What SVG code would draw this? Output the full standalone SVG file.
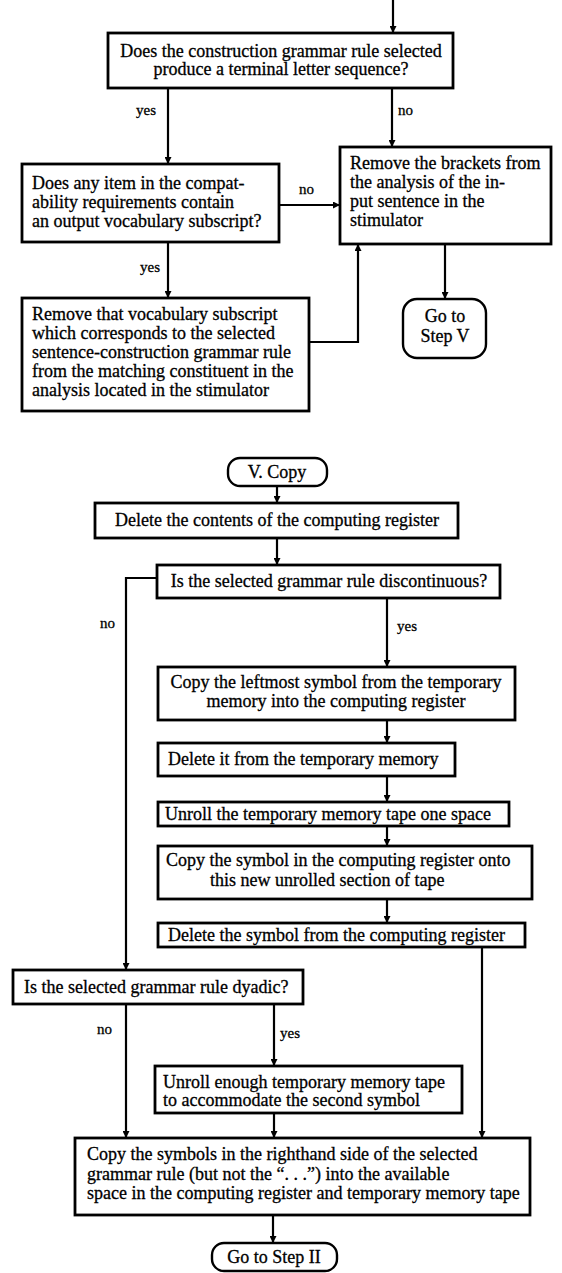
<svg xmlns="http://www.w3.org/2000/svg" width="562" height="1273" viewBox="0 0 562 1273">
  <defs>
    <marker id="arr" viewBox="0 0 8 8" refX="8" refY="4" markerWidth="7" markerHeight="7" markerUnits="userSpaceOnUse" orient="auto">
      <path d="M0,0 L8,4 L0,8 z" fill="#000"/>
    </marker>
  </defs>
  <style>
    .box{fill:#fff;stroke:#000;stroke-width:2.8}
    .term{fill:#fff;stroke:#000;stroke-width:2.4}
    .t{font-family:"Liberation Serif","Times New Roman",serif;font-size:18px;fill:#000;stroke:#000;stroke-width:0.3}
    .c{text-anchor:middle}
    .lbl{font-family:"Liberation Serif","Times New Roman",serif;font-size:15px;fill:#000;stroke:#000;stroke-width:0.3}
    .edge{fill:none;stroke:#000;stroke-width:2.2;marker-end:url(#arr)}
  </style>
  <rect width="562" height="1273" fill="#fff"/>

  <!-- connectors -->
  <g id="connectors">
    <path class="edge" d="M393,0 V33"/>
    <path class="edge" d="M168,88 V164"/>
    <path class="edge" d="M392,88 V147"/>
    <path class="edge" d="M279,205 H340"/>
    <path class="edge" d="M168,242 V298"/>
    <path class="edge" d="M309,342 H358 V244"/>
    <path class="edge" d="M445,244 V299"/>
    <path class="edge" d="M277,486 V503"/>
    <path class="edge" d="M277,538 V565"/>
    <path class="edge" d="M157,578 H126 V970"/>
    <path class="edge" d="M387,598 V667"/>
    <path class="edge" d="M387,720 V743"/>
    <path class="edge" d="M387,776 V802"/>
    <path class="edge" d="M387,826 V846"/>
    <path class="edge" d="M387,899 V923"/>
    <path class="edge" d="M482,947 V1138"/>
    <path class="edge" d="M126,1004 V1138"/>
    <path class="edge" d="M274,1004 V1066"/>
    <path class="edge" d="M274,1113 V1138"/>
    <path class="edge" d="M273,1215 V1243"/>
  </g>

  <!-- branch labels -->
  <g id="labels">
    <text class="lbl" x="136" y="115">yes</text>
    <text class="lbl" x="398" y="115">no</text>
    <text class="lbl" x="299" y="194">no</text>
    <text class="lbl" x="140" y="272">yes</text>
    <text class="lbl" x="100" y="628">no</text>
    <text class="lbl" x="397" y="631">yes</text>
    <text class="lbl" x="97" y="1034">no</text>
    <text class="lbl" x="280" y="1038">yes</text>
  </g>

  <g id="terminal-check">
    <rect class="box" x="108" y="33" width="345" height="55"/>
    <text class="t c" x="281" y="57">Does the construction grammar rule selected</text>
    <text class="t c" x="281" y="75">produce a terminal letter sequence?</text>
  </g>

  <g id="compat-check">
    <rect class="box" x="22" y="164" width="257" height="78"/>
    <text class="t" x="32" y="189">Does any item in the compat-</text>
    <text class="t" x="32" y="208">ability requirements contain</text>
    <text class="t" x="32" y="227">an output vocabulary subscript?</text>
  </g>

  <g id="remove-brackets">
    <rect class="box" x="340" y="147" width="211" height="97"/>
    <text class="t" x="350" y="169">Remove the brackets from</text>
    <text class="t" x="350" y="188">the analysis of the in-</text>
    <text class="t" x="350" y="207">put sentence in the</text>
    <text class="t" x="350" y="226">stimulator</text>
  </g>

  <g id="remove-subscript">
    <rect class="box" x="22" y="298" width="287" height="113"/>
    <text class="t" x="32" y="320">Remove that vocabulary subscript</text>
    <text class="t" x="32" y="339">which corresponds to the selected</text>
    <text class="t" x="32" y="358">sentence-construction grammar rule</text>
    <text class="t" x="32" y="377">from the matching constituent in the</text>
    <text class="t" x="32" y="396">analysis located in the stimulator</text>
  </g>

  <g id="goto-step-v">
    <rect class="term" x="403" y="299" width="83" height="59" rx="14"/>
    <text class="t c" x="445" y="322">Go to</text>
    <text class="t c" x="445" y="342">Step V</text>
  </g>

  <g id="v-copy">
    <rect class="term" x="228" y="458" width="99" height="28" rx="12"/>
    <text class="t c" x="277" y="478">V. Copy</text>
  </g>

  <g id="delete-contents">
    <rect class="box" x="95" y="503" width="363" height="35"/>
    <text class="t c" x="277" y="526">Delete the contents of the computing register</text>
  </g>

  <g id="discontinuous-check">
    <rect class="box" x="157" y="565" width="343" height="33"/>
    <text class="t c" x="329" y="587">Is the selected grammar rule discontinuous?</text>
  </g>

  <g id="copy-leftmost">
    <rect class="box" x="158" y="667" width="357" height="53"/>
    <text class="t c" x="336" y="688">Copy the leftmost symbol from the temporary</text>
    <text class="t c" x="336" y="707">memory into the computing register</text>
  </g>

  <g id="delete-it">
    <rect class="box" x="158" y="743" width="297" height="33"/>
    <text class="t" x="168" y="765">Delete it from the temporary memory</text>
  </g>

  <g id="unroll-one">
    <rect class="box" x="158" y="802" width="351" height="24"/>
    <text class="t" x="165" y="820">Unroll the temporary memory tape one space</text>
  </g>

  <g id="copy-symbol">
    <rect class="box" x="158" y="846" width="374" height="53"/>
    <text class="t" x="166" y="866">Copy the symbol in the computing register onto</text>
    <text class="t" x="210" y="886">this new unrolled section of tape</text>
  </g>

  <g id="delete-symbol">
    <rect class="box" x="158" y="923" width="367" height="24"/>
    <text class="t" x="168" y="941">Delete the symbol from the computing register</text>
  </g>

  <g id="dyadic-check">
    <rect class="box" x="13" y="970" width="290" height="34"/>
    <text class="t" x="24" y="993">Is the selected grammar rule dyadic?</text>
  </g>

  <g id="unroll-enough">
    <rect class="box" x="155" y="1066" width="307" height="47"/>
    <text class="t" x="163" y="1088">Unroll enough temporary memory tape</text>
    <text class="t" x="163" y="1106">to accommodate the second symbol</text>
  </g>

  <g id="copy-righthand">
    <rect class="box" x="75" y="1138" width="455" height="77"/>
    <text class="t" x="87" y="1160">Copy the symbols in the righthand side of the selected</text>
    <text class="t" x="87" y="1180">grammar rule (but not the “. . .”) into the available</text>
    <text class="t" x="87" y="1199">space in the computing register and temporary memory tape</text>
  </g>

  <g id="goto-step-ii">
    <rect class="term" x="212" y="1243" width="125" height="28" rx="12"/>
    <text class="t c" x="274" y="1263">Go to Step II</text>
  </g>
</svg>
